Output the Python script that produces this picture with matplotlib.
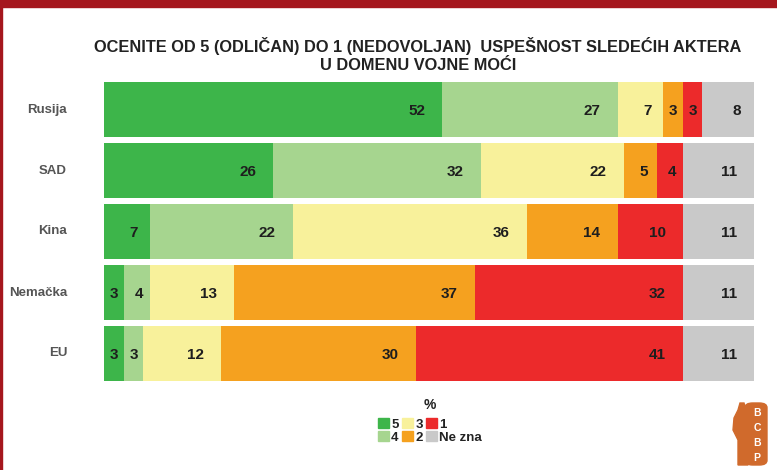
import matplotlib
matplotlib.use("Agg")
import matplotlib.pyplot as plt
from matplotlib.patches import Rectangle, FancyBboxPatch, Polygon
from matplotlib import font_manager
import numpy as np

names = {f.name for f in font_manager.fontManager.ttflist}

categories = ["Rusija", "SAD", "Kina", "Nemačka", "EU"]
series_labels = ["5", "4", "3", "2", "1", "Ne zna"]
values = {
    "5":      [52, 26, 7, 3, 3],
    "4":      [27, 32, 22, 4, 3],
    "3":      [7, 22, 36, 13, 12],
    "2":      [3, 5, 14, 37, 30],
    "1":      [3, 4, 10, 32, 41],
    "Ne zna": [8, 11, 11, 11, 11],
}
colors = {
    "5": "#3db54a",
    "4": "#a6d58f",
    "3": "#f8f19b",
    "2": "#f5a11f",
    "1": "#ec2a2b",
    "Ne zna": "#c9c9c9",
}
title = "OCENITE OD 5 (ODLIČAN) DO 1 (NEDOVOLJAN)  USPEŠNOST SLEDEĆIH AKTERA\nU DOMENU VOJNE MOĆI"

narrow = "Liberation Sans Narrow" if "Liberation Sans Narrow" in names else "Liberation Sans"
plt.rcParams["font.family"] = ["Liberation Sans", "DejaVu Sans"]

W, H = 777, 470
fig = plt.figure(figsize=(W / 100, H / 100), dpi=100)
fig.patch.set_facecolor("white")

x0, x1 = 104, 754
ytop, ybot = 79, 384
ax = fig.add_axes([x0 / W, 1 - ybot / H, (x1 - x0) / W, (ybot - ytop) / H])
ax.set_xlim(0, 100)
ax.set_ylim(len(categories) - 0.5, -0.5)
ax.axis("off")

px_per_unit = (x1 - x0) / 100.0
y = np.arange(len(categories))
left = np.zeros(len(categories))
for s in series_labels:
    v = np.array(values[s], dtype=float)
    ax.barh(y, v, left=left, height=0.9, color=colors[s], edgecolor="none")
    for i, val in enumerate(v):
        end = left[i] + val
        pad_px = min(17, 0.25 * val * px_per_unit)
        ax.text(end - pad_px / px_per_unit, y[i] + 0.03, f"{int(val)}",
                ha="right", va="center", fontsize=11, fontweight="bold",
                color="#1e1e1e")
    left += v

for i, c in enumerate(categories):
    ax.text(-37 / px_per_unit, y[i], c, ha="right", va="center",
            fontsize=9.5, fontweight="bold", color="#555555", clip_on=False)

fig.text(418 / W, 1 - 55 / H, title, ha="center", va="center",
         fontsize=11.8, fontweight="bold", family=[narrow, "DejaVu Sans"],
         color="#222222", linespacing=1.27)

# red frame
fig.patches.append(Rectangle((0, 1 - 7 / H), 1, 7 / H, transform=fig.transFigure,
                             color="#a5161d", zorder=5))
fig.patches.append(Rectangle((0, 0), 2 / W, 1, transform=fig.transFigure,
                             color="#a5161d", zorder=5))

fig.text(430 / W, 1 - 405 / H, "%", ha="center", va="center",
         fontsize=10, fontweight="bold", color="#222222")

handles = [Rectangle((0, 0), 1, 1, color=colors[s]) for s in series_labels]
leg = fig.legend(handles, series_labels, ncol=3, loc="center",
                 bbox_to_anchor=(430 / W, 1 - 431 / H), frameon=False,
                 prop={"size": 9.5, "weight": "bold"},
                 handlelength=0.85, handleheight=0.75, handletextpad=0.15,
                 columnspacing=0.25, labelspacing=0.05, borderpad=0)
for t in leg.get_texts():
    t.set_color("#222222")

# logo
logo_c = "#d06a2c"
fig.patches.append(FancyBboxPatch((745 / W, 1 - 465 / H), 22 / W, 62 / H,
                                  boxstyle="round,pad=0,rounding_size=0.01",
                                  transform=fig.transFigure, color=logo_c))
statue = [(738, 465), (738, 440), (733, 430), (734, 418), (738, 410), (740, 403),
          (744, 403), (746, 410), (748, 430), (746, 445), (748, 465)]
fig.patches.append(Polygon([(px / W, 1 - py / H) for px, py in statue],
                           closed=True, transform=fig.transFigure, color=logo_c))
for k, ch in enumerate("BCBP"):
    fig.text(757 / W, 1 - (413 + k * 15) / H, ch, ha="center", va="center",
             fontsize=7.5, fontweight="bold", color="white")

fig.savefig("out.png", dpi=100)
